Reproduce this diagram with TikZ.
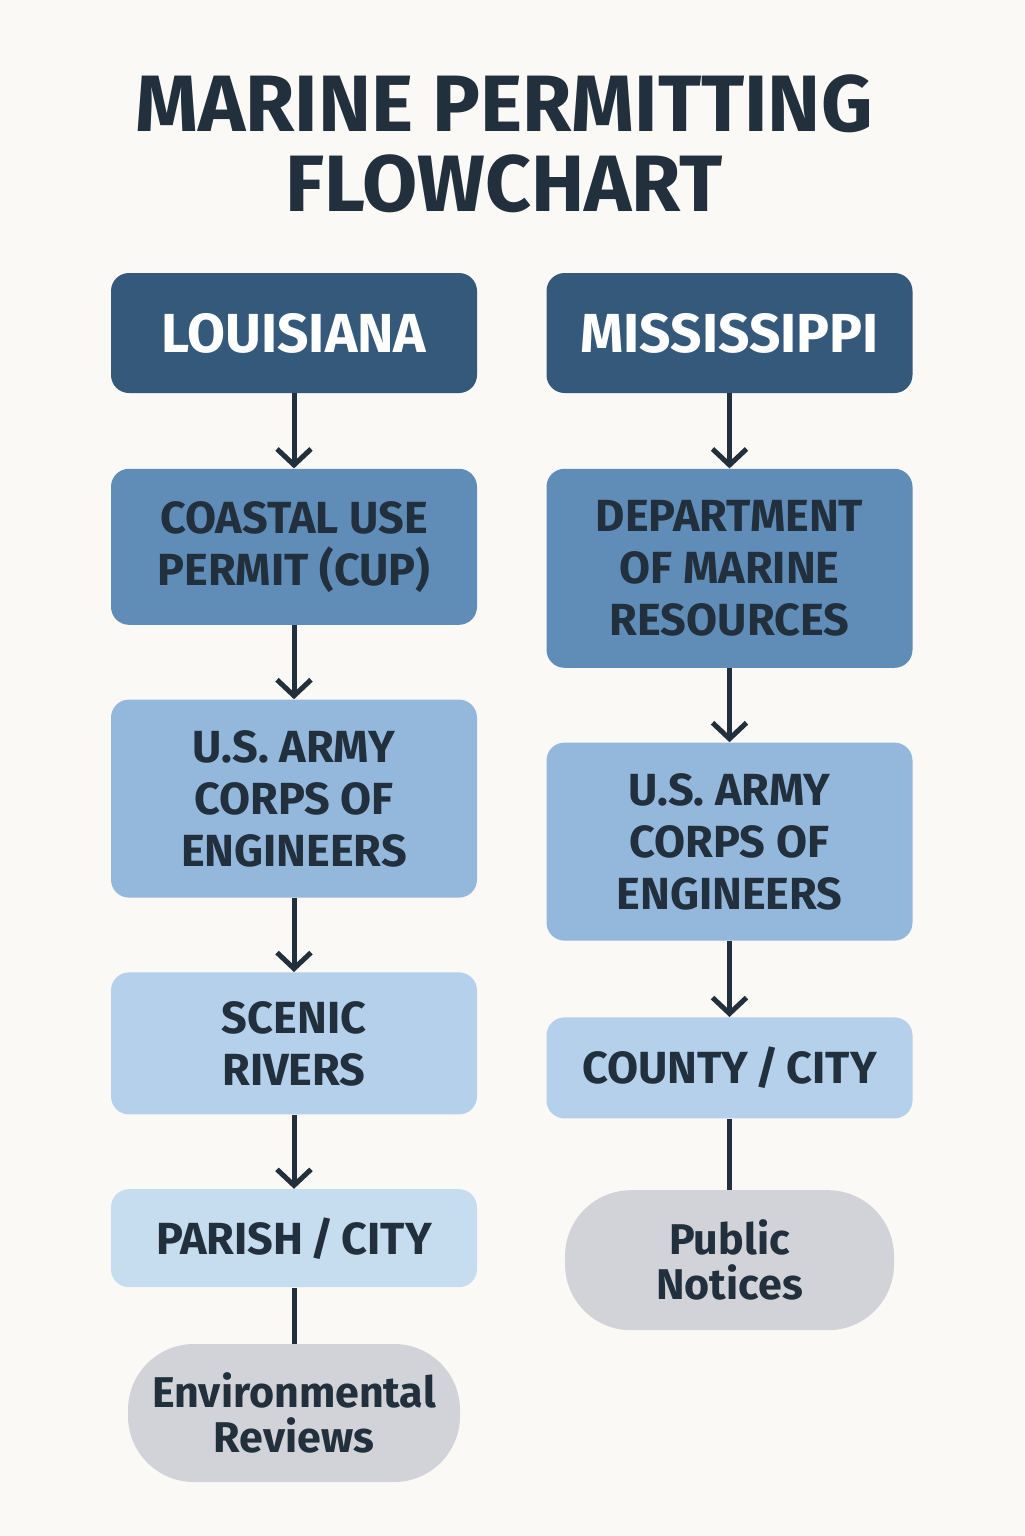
\documentclass[tikz,border=0pt]{standalone}
\usepackage{fontspec}
\setmainfont{Fira Sans}
\usetikzlibrary{positioning,arrows.meta}
\definecolor{pagebg}{HTML}{FAF9F6}
\definecolor{ink}{HTML}{222F3C}
\definecolor{statefill}{HTML}{34597A}
\definecolor{levelone}{HTML}{5F8DB8}
\definecolor{leveltwo}{HTML}{94B8DC}
\definecolor{levelthree}{HTML}{B4D0EA}
\definecolor{levelfour}{HTML}{C6DCEF}
\definecolor{notefill}{HTML}{D1D3D8}
\begin{document}
\begin{tikzpicture}[node distance=37.5pt,
                    box/.style={rounded corners=9pt,minimum width=183pt,inner sep=0pt,align=center,
                                text=ink,font=\fontsize{22.5}{26}\selectfont\bfseries},
                    state node/.style={box,fill=statefill,text=white,minimum height=60pt,
                                font=\fontsize{27.5}{30}\selectfont\bfseries},
                    note node/.style={box,fill=notefill,rounded corners=33pt,minimum width=166pt,minimum height=69pt,
                                font=\fontsize{21.5}{22.5}\selectfont\bfseries},
                    flow/.style={ink,line width=2.5pt,-{Straight Barb[length=8pt,width=17pt,line width=2.5pt]}},
                    link/.style={ink,line width=2.5pt}]

        \fill[pagebg] (0,0) rectangle (512pt,-768pt);
        \useasboundingbox (0,0) rectangle (512pt,-768pt);

        \node[text=ink,align=center,font=\fontsize{40}{40}\selectfont\bfseries] (title) at (252pt,-72pt)
            {MARINE PERMITTING\\FLOWCHART};

        % Define vertices
        \node[state node] (la) at (147pt,-166.5pt) {LOUISIANA};
        \node[box,fill=levelone,minimum height=78pt,below=of la] (cup) {COASTAL USE\\PERMIT (CUP)};
        \node[box,fill=leveltwo,minimum height=99pt,below=37pt of cup] (laarmy) {U.S. ARMY\\CORPS OF\\ENGINEERS};
        \node[box,fill=levelthree,minimum height=71pt,below=37pt of laarmy] (scenic) {SCENIC\\RIVERS};
        \node[box,fill=levelfour,minimum height=49pt,below=37pt of scenic] (parish) {PARISH\,/\,CITY};
        \node[note node,below=28pt of parish] (envrev) {Environmental\\Reviews};

        \node[state node] (ms) at (364.75pt,-166.5pt) {MISSISSIPPI};
        \node[box,fill=levelone,minimum height=99.5pt,below=of ms] (dmr) {DEPARTMENT\\OF MARINE\\RESOURCES};
        \node[box,fill=leveltwo,minimum height=99pt,below=37pt of dmr] (msarmy) {U.S. ARMY\\CORPS OF\\ENGINEERS};
        \node[box,fill=levelthree,minimum height=50.5pt,below=38pt of msarmy] (county) {COUNTY\,/\,CITY};
        \node[note node,minimum width=164.5pt,minimum height=70pt,below=35.5pt of county] (pubnot) {Public\\Notices};

        % Draw edges
        \draw[flow] (la) -- (cup);
        \draw[flow] (cup) -- (laarmy);
        \draw[flow] (laarmy) -- (scenic);
        \draw[flow] (scenic) -- (parish);
        \draw[link] (parish) -- (envrev);
        \draw[flow] (ms) -- (dmr);
        \draw[flow] (dmr) -- (msarmy);
        \draw[flow] (msarmy) -- (county);
        \draw[link] (county) -- (pubnot);

\end{tikzpicture}
\end{document}
